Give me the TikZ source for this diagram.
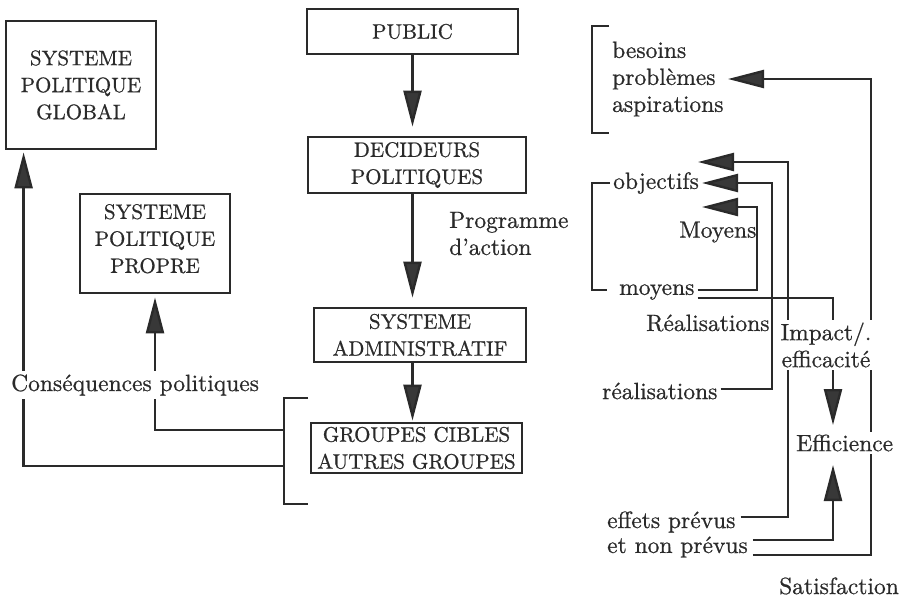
\documentclass[tikz,border=0pt]{standalone}
\usepackage{fontspec}
\setmainfont{lmroman10-regular}[Extension=.otf,FakeBold=0.7]
\usetikzlibrary{arrows.meta,calc}
\definecolor{ink}{HTML}{2A2A2A}
\definecolor{headfill}{HTML}{383838}
\begin{document}
\begin{tikzpicture}[x=1pt,y=-1pt,color=ink,line width=2.4pt,
  capsfont/.style={font=\fontsize{21}{27}\selectfont},
  lowfont/.style={font=\fontsize{23.5}{27}\selectfont},
  box/.style={draw,line width=2.8pt,inner sep=0pt,align=center,capsfont},
  lbl/.style={lowfont,inner sep=2pt,align=left},
  cover/.style={fill=white,inner sep=3pt},
  arr/.style={-{Triangle[length=36pt,width=18pt,fill=headfill]}},
  bracket/.style={line cap=butt}]
\fill[white] (0,0) rectangle (901,598);
\useasboundingbox (0,0) rectangle (901,598);

% ---- boxes of the political / administrative chain
\node[box,minimum width=150pt,minimum height=128pt] (global) at (81,85) {SYSTEME\\POLITIQUE\\GLOBAL};
\node[box,minimum width=150pt,minimum height=99pt,text depth=10pt] (propre) at (155,243.5) {SYSTEME\\POLITIQUE\\PROPRE};
\node[box,minimum width=211pt,minimum height=45pt] (public) at (412.5,31.5) {PUBLIC};
\node[box,minimum width=218pt,minimum height=56pt] (decid) at (417,165) {DECIDEURS\\POLITIQUES};
\node[box,minimum width=212pt,minimum height=54pt] (admin) at (420,335) {SYSTEME\\ADMINISTRATIF};
\node[box,minimum width=211pt,minimum height=50pt] (groupes) at (416.5,448) {GROUPES CIBLES\\AUTRES GROUPES};

\node[lbl,anchor=west] (prog) at (446,233.5) {Programme\\d'action};

% ---- vertical chain
\draw[arr,shorten >=9pt] (public.south) -- (public.south |- decid.north);
\draw[arr,shorten >=9pt] (decid.south -| public.south) -- (admin.north -| public.south);
\draw[arr,shorten >=1pt] (admin.south -| public.south) -- (groupes.north -| public.south);

% ---- bracket around the groups and political consequences
\coordinate (brTop) at (308,398);
\coordinate (brBot) at (308,504);
\coordinate (brA) at (284,430);
\coordinate (brB) at (284,466);
\draw[bracket] (brTop) -- ++(-24,0) -- ++(0,106) -- (brBot);
\draw[arr,shorten >=3pt] (brA) -| (propre.south);
\draw[arr,shorten >=2pt] (brB) -| ([xshift=19pt]global.south west);

% ---- right-hand column: needs, objectives, means, results
\node[lbl,anchor=west] (needs) at (609,79) {besoins\\problèmes\\aspirations};
\draw[bracket] (609,26) -- (592,26) -- (592,133) -- (609,133);

\node[lbl,anchor=west] (obj) at (610,183) {objectifs};
\node[lbl,anchor=west] (moy) at (616,292) {moyens};
\node[lbl,anchor=west,inner sep=0pt] (lblMoy) at (678,232) {Moyens};
\node[lbl,anchor=west,inner sep=0pt] (lblReal) at (645,323) {Réalisations};
\node[lbl,anchor=west] (real) at (599,391) {réalisations};
\node[lbl,anchor=west] (effets) at (604,522) {effets prévus};
\node[lbl,anchor=west] (etnon) at (604,547) {et non prévus};
\node[lbl,anchor=west] (sat) at (776,586) {Satisfaction};

\draw[bracket] (obj.west) -- ++(-18,0) |- ($(moy.west)+(-9,-2)$);

\coordinate (satCorner) at (871,79);
\coordinate (satTip) at (728,79);
\coordinate (impCorner) at (788,162);
\coordinate (impTip) at (698,162);
\coordinate (realCorner) at (772,183);
\coordinate (moyCorner) at (757,207);
\coordinate (moyTip) at (702,207);
\coordinate (effTop) at (833,425);
\coordinate (effBot) at (833,465);

\draw[arr] ($(etnon.east)+(2,8)$) -| (satCorner) -- (satTip);
\draw[arr] ($(effets.east)+(2,-5)$) -| (impCorner) -- (impTip);
\draw[arr] ($(real.east)+(0,-2)$) -| (realCorner) -- (obj.east);
\draw[arr] ($(moy.east)+(0,-2)$) -| (moyCorner) -- (moyTip);
\draw[arr] ($(moy.east)+(0,6)$) -| (effTop);
\draw[arr] ($(etnon.east)+(2,-7)$) -| (effBot);

% ---- labels laid over the lines they interrupt
\node[lowfont,cover,anchor=west] (cons) at (7,385) {Conséquences politiques};
\node[lowfont,cover,align=center] (impact) at (826,345) {Impact/.\\efficacité};
\node[lowfont,cover,anchor=west] (effic) at (792,443) {Efficience};
\end{tikzpicture}
\end{document}
